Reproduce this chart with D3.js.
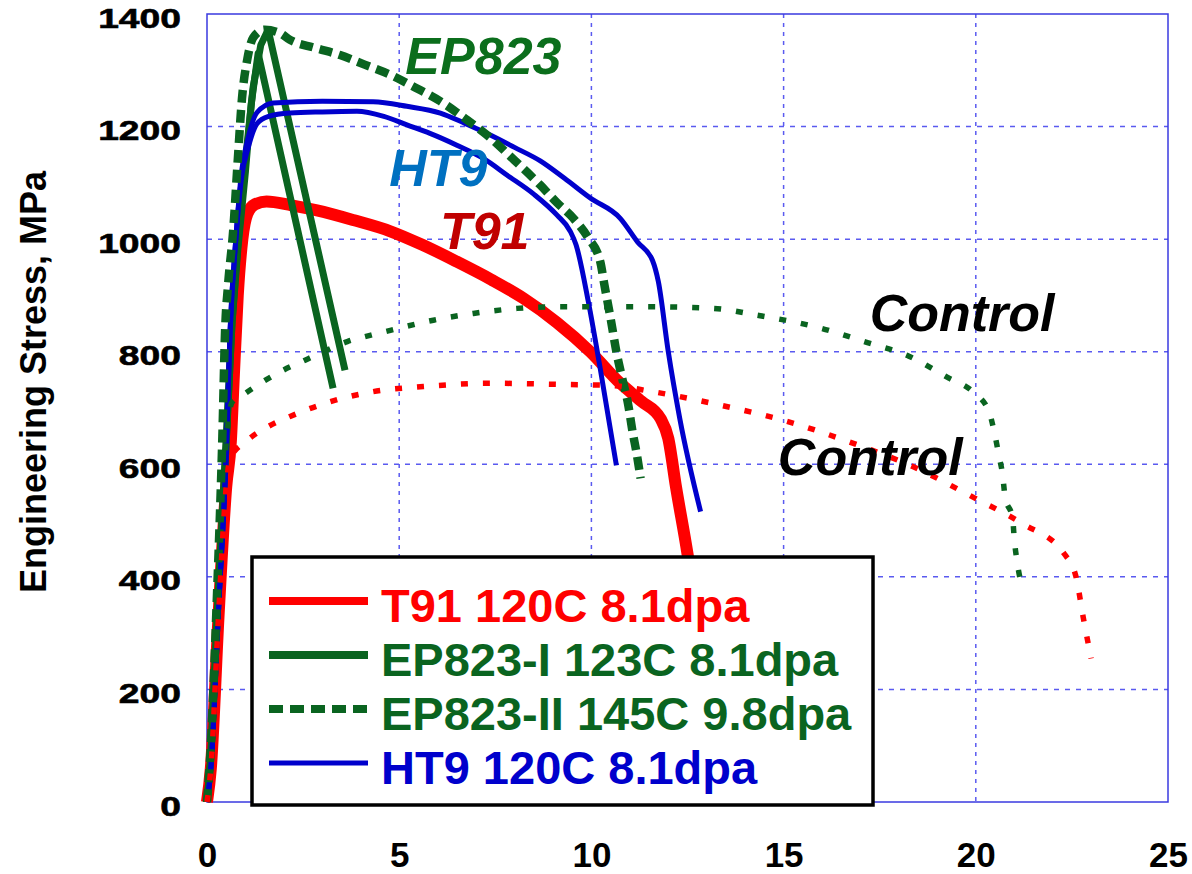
<!DOCTYPE html>
<html>
<head>
<meta charset="utf-8">
<script src="https://cdn.jsdelivr.net/npm/d3@7"></script>
<style>
  html, body { margin: 0; padding: 0; background: #fff; }
  svg { display: block; }
  text { font-family: "Liberation Sans", Arial, sans-serif; font-weight: bold; }
</style>
</head>
<body>
<svg id="chart" width="1192" height="874"></svg>
<script>
// Engineering stress-strain curves: irradiated T91, EP823, HT9 and unirradiated controls.
// Each curve is a list of [strain %, stress MPa] pairs.

const t91Irr = [[0,0],[0.1,60],[0.3,330],[0.5,560],[0.62,640],[0.7,760],[0.8,900],[0.92,1000],[1.05,1045],[1.25,1062],[1.55,1067],[2.2,1060],[2.86,1051],[3.8,1034],[4.77,1014],[5.6,990],[6.5,960],[7.4,928],[8.23,895],[9.1,852],[9.97,800],[10.75,744],[11.3,712],[11.8,681],[12.0,646],[12.2,560],[12.5,441],[12.8,300],[13.0,150]];

const ep823IrrA = [[0,0],[0.1,80],[0.3,380],[0.5,640],[0.65,850],[0.8,980],[1.0,1120],[1.15,1240],[1.33,1330],[3.28,735]];
const ep823IrrB = [[0,0],[0.1,80],[0.3,380],[0.5,640],[0.65,850],[0.8,990],[1.0,1140],[1.2,1270],[1.4,1345],[1.59,1372],[3.59,767]];

const ep823IrrII = [[0,0],[0.1,100],[0.25,350],[0.4,650],[0.47,836],[0.55,920],[0.68,1014],[0.8,1140],[0.91,1250],[1.05,1320],[1.2,1358],[1.5,1372],[1.9,1366],[2.16,1354],[2.8,1340],[3.46,1327],[4.1,1310],[4.77,1292],[5.4,1270],[6.07,1245],[6.7,1215],[7.37,1180],[8.0,1140],[8.67,1096],[9.1,1065],[9.53,1037],[9.92,1002],[10.23,960],[10.34,918],[10.5,859],[10.65,800],[10.8,753],[10.96,705],[11.07,658],[11.17,622],[11.28,575]];

const ht9IrrA = [[0,0],[0.1,60],[0.3,340],[0.5,620],[0.6,836],[0.75,1000],[0.9,1120],[1.07,1180],[1.3,1225],[1.72,1242],[3.0,1245],[4.32,1244],[5.2,1236],[6.07,1224],[6.7,1206],[7.37,1185],[8.0,1163],[8.67,1139],[9.3,1108],[9.97,1073],[10.75,1037],[11.2,995],[11.59,962],[11.74,925],[12.0,800],[12.3,681],[12.84,516]];
const ht9IrrB = [[0,0],[0.1,60],[0.3,340],[0.5,620],[0.6,836],[0.75,1000],[0.9,1110],[1.07,1162],[1.3,1205],[1.6,1218],[2.16,1224],[3.0,1226],[3.9,1227],[4.6,1218],[5.2,1203],[5.8,1188],[6.5,1167],[7.2,1143],[7.8,1114],[8.5,1080],[9.1,1043],[9.45,1014],[9.6,990],[9.92,889],[10.23,770],[10.65,598]];

const ep823Control = [[0,0],[0.1,80],[0.3,380],[0.5,640],[0.65,710],[0.91,722],[1.46,747],[1.98,767],[2.55,785],[3.1,802],[3.65,818],[4.24,829],[4.77,838],[5.89,856],[6.93,868],[8.07,877],[9.19,880],[10.42,880],[11.28,880],[13.15,877],[14.3,865],[15.96,842],[17.1,818],[18.26,792],[19.3,753],[19.92,729],[20.34,694],[20.5,651],[20.6,616],[20.7,580],[20.76,543],[20.96,503],[21.0,468],[21.07,429],[21.17,391]];

const t91Control = [[0,0],[0.1,60],[0.3,330],[0.5,560],[0.6,610],[1.04,642],[1.59,667],[2.16,685],[3.2,711],[4.32,729],[5.63,738],[7.37,744],[9.1,742],[10.5,740],[11.59,729],[13.36,705],[15.0,678],[16.7,640],[18.36,596],[20.0,539],[21.2,495],[22.3,441],[22.6,402],[22.8,326],[23.0,255]];

const xTicks = [0, 5, 10, 15, 20, 25];
const yTicks = [0, 200, 400, 600, 800, 1000, 1200, 1400];

const legendLabels = ["T91 120C 8.1dpa", "EP823-I 123C 8.1dpa", "EP823-II 145C 9.8dpa", "HT9 120C 8.1dpa"];

const annotations = [
  { text: "EP823", x: 5.16, y: 1293, color: "#0b6e1c" },
  { text: "HT9", x: 4.74, y: 1094, color: "#0070c0" },
  { text: "T91", x: 6.06, y: 982, color: "#c00000" },
  { text: "Control", x: 17.24, y: 836, color: "#000" },
  { text: "Control", x: 14.85, y: 581, color: "#000" }
];

const RED = "#ff0000", GREEN = "#0a6420", BLUE = "#0000cc";

const svg = d3.select("#chart");
const x = d3.scaleLinear().domain([0, 25]).range([207, 1168]);
const y = d3.scaleLinear().domain([0, 1400]).range([802, 14]);

// grid
const grid = svg.append("g");
grid.selectAll("line.gx").data(xTicks.slice(1, -1)).join("line")
  .attr("x1", d => x(d)).attr("x2", d => x(d))
  .attr("y1", y(1400)).attr("y2", y(0))
  .attr("stroke", "#5a5af0").attr("stroke-width", 1.5).attr("stroke-dasharray", "4,5");
grid.selectAll("line.gy").data(yTicks.slice(1, -1)).join("line")
  .attr("x1", x(0)).attr("x2", x(25))
  .attr("y1", d => y(d)).attr("y2", d => y(d))
  .attr("stroke", "#5a5af0").attr("stroke-width", 1.5).attr("stroke-dasharray", "5,6");
svg.append("rect")
  .attr("x", x(0)).attr("y", y(1400))
  .attr("width", x(25) - x(0)).attr("height", y(0) - y(1400))
  .attr("fill", "none").attr("stroke", "#3a3ae0").attr("stroke-width", 1.5);

// axes (labels only)
const xAxis = svg.append("g").attr("transform", `translate(0,${y(0)})`)
  .call(d3.axisBottom(x).tickValues(xTicks).tickSize(0).tickPadding(0).tickFormat(d3.format("d")));
xAxis.select(".domain").remove();
xAxis.selectAll("text")
  .attr("y", 65).attr("dy", 0)
  .attr("fill", "#000")
  .style("font-size", "35px").style("font-family", "'Liberation Sans', Arial, sans-serif").style("font-weight", "bold");

const yAxis = svg.append("g").attr("transform", "translate(181,0)")
  .call(d3.axisLeft(y).tickValues(yTicks).tickSize(0).tickPadding(0).tickFormat(d3.format("d")));
yAxis.select(".domain").remove();
yAxis.selectAll("text")
  .attr("x", 0).attr("dy", "0.36em")
  .attr("transform", "translate(0,3) scale(1.33,1)")
  .attr("fill", "#000")
  .attr("stroke", "#000").attr("stroke-width", 0.6)
  .style("font-size", "28px").style("font-family", "'Liberation Sans', Arial, sans-serif").style("font-weight", "bold");

svg.append("text")
  .attr("transform", "translate(46,382) rotate(-90)")
  .attr("text-anchor", "middle")
  .style("font-size", "36px")
  .text("Engineering Stress, MPa");

// curves: smooth through the readings; the EP823-I traces are straight after the peak
const smooth = d3.line().x(d => x(d[0])).y(d => y(d[1])).curve(d3.curveMonotoneX);
const straight = d3.line().x(d => x(d[0])).y(d => y(d[1])).curve(d3.curveLinear);
const curves = svg.append("g").attr("fill", "none").attr("stroke-linejoin", "round");

function draw(data, gen, color, width, dash) {
  curves.append("path").datum(data)
    .attr("d", gen)
    .attr("stroke", color)
    .attr("stroke-width", width)
    .attr("stroke-dasharray", dash || null)
    .attr("stroke-linecap", "butt");
}

draw(t91Irr, smooth, RED, 12);
draw(ep823IrrA, straight, GREEN, 7);
draw(ep823IrrB, straight, GREEN, 7);
draw(ht9IrrA, smooth, BLUE, 5);
draw(ht9IrrB, smooth, BLUE, 5);
draw(ep823IrrII, smooth, GREEN, 8.5, "13,7");
draw(ep823Control, smooth, GREEN, 5.5, "7,15");
draw(t91Control, smooth, RED, 5.5, "7,15");

// annotations
svg.append("g").selectAll("text").data(annotations).join("text")
  .attr("x", d => x(d.x)).attr("y", d => y(d.y))
  .attr("fill", d => d.color)
  .style("font-size", "52px").style("font-style", "italic")
  .text(d => d.text);

// legend
const legendStyles = [
  { color: RED, width: 8, dash: null },
  { color: GREEN, width: 8, dash: null },
  { color: GREEN, width: 8, dash: "14,7" },
  { color: BLUE, width: 5, dash: null }
];
const legend = svg.append("g");
legend.append("rect")
  .attr("x", 252).attr("y", 557).attr("width", 621).attr("height", 248)
  .attr("fill", "#fff").attr("stroke", "#000").attr("stroke-width", 3.5);
const rows = legend.selectAll("g.row").data(legendLabels).join("g")
  .attr("transform", (d, i) => `translate(0,${622 + i * 54})`);
rows.append("line")
  .attr("x1", 269).attr("x2", 368).attr("y1", -21).attr("y2", -21)
  .attr("stroke", (d, i) => legendStyles[i].color)
  .attr("stroke-width", (d, i) => legendStyles[i].width)
  .attr("stroke-dasharray", (d, i) => legendStyles[i].dash);
rows.append("text")
  .attr("x", 381).attr("y", 0)
  .attr("fill", (d, i) => legendStyles[i].color)
  .style("font-size", "47px")
  .text(d => d);
</script>
</body>
</html>
